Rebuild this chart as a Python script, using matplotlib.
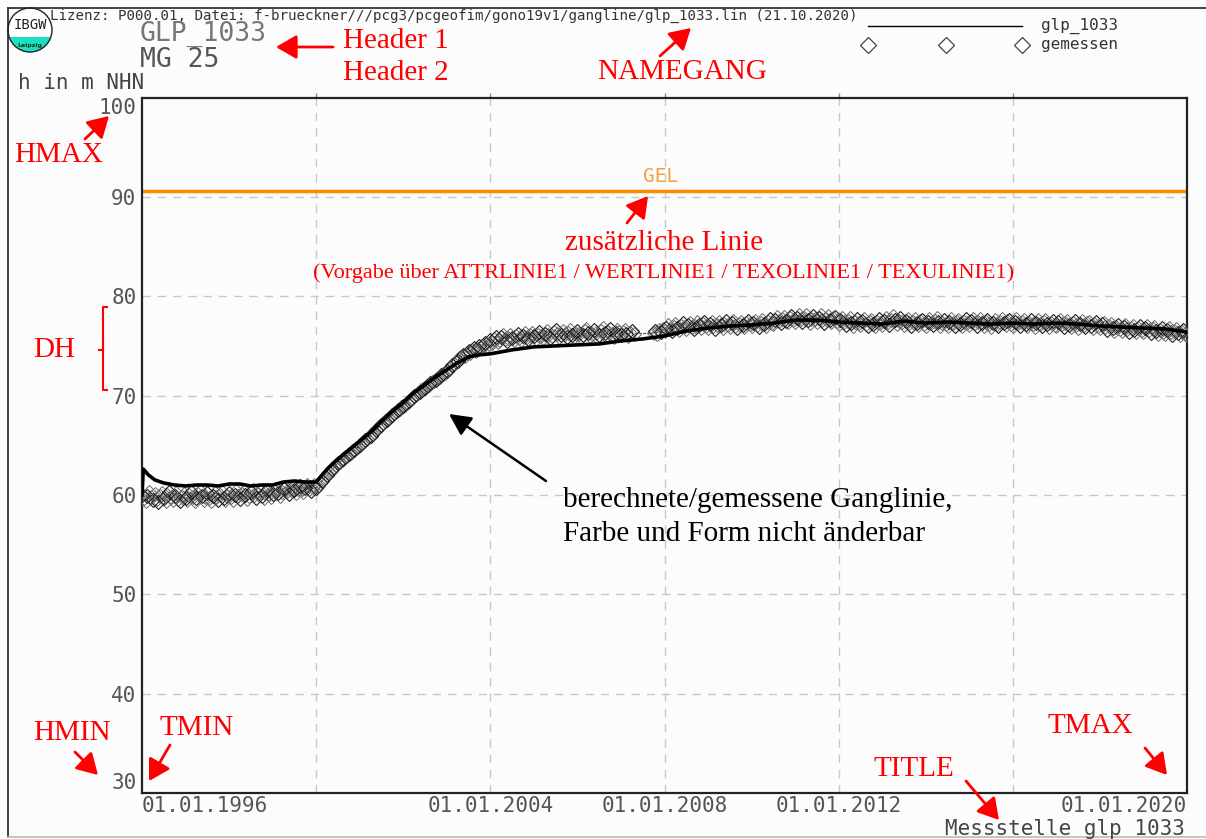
import matplotlib.pyplot as plt
import numpy as np
from matplotlib.patches import Circle, Rectangle

# measured groundwater heads (m NHN), two readings per month, Jan..Dec
meas_years = list(range(1996, 2020))
meas_h = [
    [60.0, 59.7, 59.4, 59.9, 60.3, 59.8, 59.5, 60.1, 59.6, 59.3, 59.9, 60.2,
     59.7, 59.4, 60.0, 60.3, 59.8, 59.5, 59.9, 60.2, 59.6, 59.4, 59.8, 60.1],  # 1996
    [59.7, 59.5, 60.0, 60.3, 59.8, 59.4, 59.7, 60.1, 60.4, 59.9, 59.5, 59.8,
     60.2, 59.7, 59.4, 59.9, 60.2, 59.8, 59.5, 60.0, 60.3, 59.7, 59.5, 59.9],  # 1997
    [60.2, 59.8, 59.5, 60.0, 60.4, 59.9, 59.6, 60.1, 60.4, 60.0, 59.6, 59.9,
     60.3, 60.5, 60.0, 59.7, 60.1, 60.4, 59.9, 59.7, 60.2, 60.5, 60.1, 59.8],  # 1998
    [60.1, 60.4, 60.6, 60.2, 59.9, 60.3, 60.6, 60.8, 60.4, 60.1, 60.5, 60.8,
     60.5, 60.2, 60.6, 60.9, 60.6, 60.3, 60.7, 61.0, 60.6, 60.4, 60.8, 61.0],  # 1999
    [60.7, 60.9, 61.2, 61.4, 61.6, 61.8, 62.0, 62.2, 62.4, 62.6, 62.8, 63.0,
     63.2, 63.3, 63.5, 63.6, 63.8, 63.9, 64.1, 64.2, 64.4, 64.5, 64.7, 64.8],  # 2000
    [65.0, 65.2, 65.3, 65.5, 65.6, 65.8, 65.9, 66.1, 66.3, 66.5, 66.7, 66.9,
     67.0, 67.2, 67.4, 67.5, 67.7, 67.9, 68.0, 68.2, 68.3, 68.5, 68.6, 68.8],  # 2001
    [69.0, 69.1, 69.3, 69.5, 69.7, 69.8, 70.0, 70.1, 70.3, 70.4, 70.6, 70.7,
     70.8, 71.0, 71.1, 71.3, 71.4, 71.5, 71.6, 71.8, 71.9, 72.1, 72.2, 72.3],  # 2002
    [72.5, 72.7, 72.8, 73.1, 73.2, 73.4, 73.5, 73.8, 73.9, 74.1, 74.0, 74.3,
     74.5, 74.3, 74.6, 74.8, 74.5, 74.7, 75.0, 74.8, 75.1, 75.3, 75.0, 75.2],  # 2003
    [75.6, 75.3, 75.7, 75.9, 75.4, 75.6, 75.9, 76.1, 75.7, 75.5, 75.8, 76.1,
     75.8, 75.6, 76.0, 76.2, 75.8, 75.6, 76.0, 76.3, 75.9, 75.7, 76.1, 76.3],  # 2004
    [76.0, 75.7, 76.1, 76.4, 76.0, 75.8, 76.2, 76.5, 76.1, 75.8, 76.0, 76.4,
     76.6, 76.2, 75.9, 76.1, 76.5, 76.2, 75.9, 76.3, 76.6, 76.1, 75.9, 76.2],  # 2005
    [76.5, 76.2, 75.9, 76.1, 76.5, 76.7, 76.3, 76.0, 76.2, 76.6, 76.3, 75.9,
     76.1, 76.5, 76.8, 76.3, 76.0, 76.4, 76.7, 76.2, 75.9, 76.3, 76.6, 76.4],  # 2006
    [76.1, 76.4, 76.6, 76.2, 76.0, 76.3, 76.5, 76.2, None, None, None, None,
     None, None, None, None, None, None, 76.3, 76.5, 76.2, 76.6, 76.4, 76.7],  # 2007
    [76.5, 76.8, 77.1, 76.7, 76.5, 76.9, 77.2, 76.8, 76.6, 77.0, 77.3, 76.9,
     76.7, 77.1, 77.3, 76.9, 76.7, 77.0, 77.4, 77.1, 76.8, 77.2, 77.4, 77.0],  # 2008
    [76.8, 77.2, 77.4, 77.0, 76.7, 77.1, 77.4, 77.1, 76.8, 77.2, 77.5, 77.1,
     76.9, 77.3, 77.5, 77.0, 76.8, 77.2, 77.4, 77.1, 76.9, 77.3, 77.5, 77.2],  # 2009
    [77.0, 77.3, 77.5, 77.1, 76.9, 77.3, 77.6, 77.2, 77.0, 77.4, 77.7, 77.3,
     77.2, 77.6, 77.9, 77.5, 77.3, 77.7, 77.9, 77.5, 77.4, 77.8, 78.0, 77.6],  # 2010
    [77.4, 77.8, 78.1, 77.7, 77.4, 77.8, 78.1, 77.6, 77.3, 77.7, 78.0, 77.7,
     77.4, 77.8, 78.1, 77.6, 77.3, 77.7, 78.0, 77.6, 77.4, 77.8, 77.9, 77.5],  # 2011
    [77.2, 77.6, 77.8, 77.4, 77.1, 77.5, 77.8, 77.3, 77.0, 77.4, 77.7, 77.3,
     77.1, 77.5, 77.7, 77.2, 77.0, 77.4, 77.6, 77.2, 77.0, 77.4, 77.7, 77.3],  # 2012
    [77.1, 77.5, 77.8, 77.4, 77.1, 77.6, 78.0, 77.6, 77.2, 77.5, 77.8, 77.4,
     77.1, 77.5, 77.7, 77.3, 77.0, 77.4, 77.7, 77.3, 77.1, 77.5, 77.6, 77.2],  # 2013
    [77.0, 77.4, 77.7, 77.3, 77.1, 77.5, 77.8, 77.4, 77.0, 77.3, 77.6, 77.2,
     77.0, 77.4, 77.7, 77.3, 77.0, 77.4, 77.6, 77.2, 77.0, 77.4, 77.7, 77.3],  # 2014
    [77.1, 77.5, 77.7, 77.3, 77.0, 77.4, 77.7, 77.3, 77.0, 77.4, 77.6, 77.2,
     76.9, 77.3, 77.6, 77.2, 77.0, 77.4, 77.7, 77.3, 77.1, 77.5, 77.6, 77.2],  # 2015
    [77.0, 77.4, 77.7, 77.3, 77.0, 77.4, 77.6, 77.2, 77.0, 77.3, 77.6, 77.2,
     76.9, 77.3, 77.6, 77.2, 77.0, 77.4, 77.6, 77.2, 76.9, 77.3, 77.5, 77.1],  # 2016
    [77.0, 77.4, 77.6, 77.2, 76.9, 77.3, 77.5, 77.1, 76.9, 77.3, 77.5, 77.1,
     76.8, 77.2, 77.5, 77.1, 76.9, 77.3, 77.4, 77.0, 76.8, 77.2, 77.4, 77.0],  # 2017
    [76.8, 77.2, 77.3, 76.9, 76.6, 77.0, 77.2, 76.8, 76.5, 76.9, 77.1, 76.7,
     76.5, 76.9, 77.1, 76.7, 76.4, 76.8, 77.0, 76.6, 76.4, 76.8, 77.0, 76.6],  # 2018
    [76.4, 76.8, 77.0, 76.6, 76.3, 76.7, 76.9, 76.5, 76.2, 76.6, 76.8, 76.4,
     76.2, 76.6, 76.8, 76.4, 76.1, 76.5, 76.7, 76.3, 76.1, 76.4, 76.6, 76.2],  # 2019
]
meas_last = (2020.0, 76.1)

# computed hydrograph (decimal year, m NHN)
calc_t = [1996.0, 1996.03, 1996.15, 1996.3, 1996.5, 1996.75,
          1997.0, 1997.25, 1997.5, 1997.75, 1998.0, 1998.25, 1998.5, 1998.75,
          1999.0, 1999.25, 1999.5, 1999.75, 2000.0, 2000.25, 2000.5, 2000.75,
          2001.0, 2001.25, 2001.5, 2001.75, 2002.0, 2002.25, 2002.5, 2002.75,
          2003.0, 2003.25, 2003.5, 2003.75, 2004.0, 2004.5, 2005.0, 2005.5,
          2006.0, 2006.5, 2007.0, 2007.5, 2008.0, 2008.5, 2009.0, 2009.5,
          2010.0, 2010.5, 2011.0, 2011.5, 2012.0, 2012.5, 2013.0, 2013.5,
          2014.0, 2014.5, 2015.0, 2015.5, 2016.0, 2016.5, 2017.0, 2017.5,
          2018.0, 2018.5, 2019.0, 2019.5, 2020.0]
calc_h = [60.0, 62.6, 62.0, 61.5, 61.2, 61.0,
          60.9, 61.0, 61.0, 60.9, 61.1, 61.1, 60.9, 61.0,
          61.0, 61.3, 61.4, 61.3, 61.3, 62.6, 63.6, 64.5,
          65.4, 66.3, 67.4, 68.4, 69.3, 70.3, 71.1, 71.9,
          72.6, 73.3, 73.9, 74.1, 74.2, 74.6, 74.9, 75.0,
          75.1, 75.2, 75.5, 75.7, 76.0, 76.5, 76.8, 77.0,
          77.1, 77.3, 77.6, 77.6, 77.4, 77.3, 77.2, 77.5,
          77.3, 77.4, 77.3, 77.2, 77.3, 77.2, 77.3, 77.2,
          77.0, 76.9, 76.8, 76.7, 76.4]

gel_level = 90.6
hmin, hmax = 30, 100
tmin, tmax = 1996, 2020
grid_years = [2000, 2004, 2008, 2012, 2016]
grid_heights = [40, 50, 60, 70, 80, 90]
label_years = [1996, 2004, 2008, 2012, 2020]

W, H = 1206, 839
PLOT_FONT = 'DejaVu Sans Mono'
NOTE_FONT = 'Liberation Serif'
RED = '#ff0000'


def main():
    fig = plt.figure(figsize=(W / 100, H / 100), dpi=100, facecolor='#fcfcfc')

    ax = fig.add_axes([142 / W, 1 - 793 / H, (1187 - 142) / W, (793 - 97.5) / H])
    ax.set_facecolor('#fcfcfc')

    # measured values, two per month
    mt, mh = [], []
    for year, row in zip(meas_years, meas_h):
        for i, h in enumerate(row):
            if h is not None:
                mt.append(year + i / 24)
                mh.append(h)
    mt.append(meas_last[0])
    mh.append(meas_last[1])

    for y in grid_years:
        ax.axvline(y, color='#c8c8c8', ls=(0, (6, 5)), lw=1, zorder=1)
    for h in grid_heights:
        ax.axhline(h, color='#c8c8c8', ls=(0, (6, 5)), lw=1, zorder=1)

    ax.axhline(gel_level, color='#ff8c00', lw=2.5, zorder=2)
    ax.text(2007.9, gel_level + 0.45, 'GEL', color='#f5a040', family=PLOT_FONT,
            fontsize=14, ha='center', va='bottom')

    ax.plot(mt, mh, ls='--', lw=0.6, color='#222222', zorder=3)
    ax.plot(mt, mh, ls='none', marker='D', ms=7.5, mfc='none', mec='#6a6a6a',
            mew=0.7, zorder=3)
    ax.plot(mt[::3], mh[::3], ls='none', marker='D', ms=7.5, mfc='none',
            mec='#1a1a1a', mew=0.6, zorder=3)
    ax.plot(calc_t, calc_h, color='black', lw=2.6, zorder=4)

    ax.set_xlim(tmin, tmax)
    ax.set_ylim(hmin, hmax)
    ax.set_yticks(range(30, 101, 10))
    ax.set_xticks(label_years)
    ax.set_xticklabels(['01.01.%d' % y for y in label_years])
    ax.tick_params(length=0, labelsize=15, labelcolor='#555555')
    ax.tick_params(axis='x', pad=2)
    ax.tick_params(axis='y', pad=4)
    for lab in ax.get_xticklabels() + ax.get_yticklabels():
        lab.set_family(PLOT_FONT)
    xl = ax.get_xticklabels()
    xl[0].set_ha('left')
    xl[-1].set_ha('right')
    yl = ax.get_yticklabels()
    yl[0].set_va('bottom')
    yl[-1].set_va('top')
    for s in ax.spines.values():
        s.set_linewidth(1.6)
        s.set_color('#222222')

    # short ticks on the top border at the grid lines
    top = ax.secondary_xaxis('top')
    top.set_xticks(grid_years)
    top.tick_params(length=3, width=1, color='#888888', labeltop=False)
    top.spines['top'].set_visible(False)

    # page overlay in pixel coordinates
    ov = fig.add_axes([0, 0, 1, 1], facecolor='none', zorder=10)
    ov.set_xlim(0, W)
    ov.set_ylim(H, 0)
    ov.axis('off')

    ov.plot([8, W], [8, 8], color='#222222', lw=1.2)
    ov.plot([8, 8], [8, 837], color='#222222', lw=1.2)
    ov.plot([8, W], [837, 837], color='#bbbbbb', lw=1.2)

    # IBGW logo
    ov.add_patch(Circle((30, 30), 22, facecolor='white', edgecolor='none', zorder=1))
    teal = Circle((30, 30), 22, facecolor='#1de0c0', edgecolor='none', zorder=2)
    ov.add_patch(teal)
    teal.set_clip_path(Rectangle((0, 37), 60, 20, transform=ov.transData))
    ov.add_patch(Circle((30, 30), 22, facecolor='none', edgecolor='#222222', lw=1, zorder=3))
    ov.text(30, 25, 'IBGW', family=PLOT_FONT, fontsize=10, ha='center', va='center',
            color='#222222', zorder=4)
    ov.text(30, 45, 'Leipzig', family='DejaVu Sans', fontsize=4.5, ha='center',
            va='center', color='#0a3a20', weight='bold', zorder=4)

    ov.text(50, 16, 'Lizenz: P000.01, Datei: f-brueckner///pcg3/pcgeofim/gono19v1/'
            'gangline/glp_1033.lin (21.10.2020)', family=PLOT_FONT, fontsize=10.2,
            color='#333333', va='center')
    ov.text(140, 34, 'GLP_1033', family=PLOT_FONT, fontsize=19, color='#777777', va='center')
    ov.text(140, 60, 'MG 25', family=PLOT_FONT, fontsize=19, color='#555555', va='center')
    ov.text(18, 83, 'h in m NHN', family=PLOT_FONT, fontsize=15, color='#444444', va='center')
    ov.text(1185, 829, 'Messstelle glp_1033', family=PLOT_FONT, fontsize=15,
            color='#444444', va='center', ha='right')

    # legend
    ov.plot([868, 1022], [26, 26], color='black', lw=1)
    ov.plot([868, 946, 1022], [45, 45, 45], ls='none', marker='D', ms=8,
            mfc='white', mec='#444444', mew=0.9)
    ov.text(1041, 26, 'glp_1033', family=PLOT_FONT, fontsize=11.5, color='#333333', va='center')
    ov.text(1041, 45, 'gemessen', family=PLOT_FONT, fontsize=11.5, color='#333333', va='center')

    # red explanatory notes
    red = dict(family=NOTE_FONT, fontsize=21, color=RED, va='center')
    ov.text(343, 41, 'Header 1', **red)
    ov.text(343, 73, 'Header 2', **red)
    ov.text(682, 72, 'NAMEGANG', ha='center', **red)
    ov.text(664, 243, 'zusätzliche Linie', ha='center', **red)
    ov.text(664, 273, '(Vorgabe über ATTRLINIE1 / WERTLINIE1 / TEXOLINIE1 / TEXULINIE1)',
            ha='center', family=NOTE_FONT, fontsize=16, color=RED, va='center')
    ov.text(14, 155, 'HMAX', **red)
    ov.text(54, 350, 'DH', ha='center', **red)
    ov.text(33, 733, 'HMIN', **red)
    ov.text(160, 728, 'TMIN', **red)
    ov.text(1047, 726, 'TMAX', **red)
    ov.text(873, 769, 'TITLE', **red)

    red_arrows = [((333, 47), (276, 47)), ((660, 56), (691, 28)), ((627, 223), (648, 196)),
                  ((85, 139), (109, 116)), ((75, 752), (98, 775)), ((170, 745), (149, 781)),
                  ((1145, 748), (1167, 775)), ((966, 781), (999, 820))]
    for tail, head in red_arrows:
        ov.annotate('', xy=head, xytext=tail,
                    arrowprops=dict(arrowstyle='-|>,head_length=0.6,head_width=0.35',
                                    color=RED, lw=2, mutation_scale=21,
                                    shrinkA=0, shrinkB=0))

    ov.plot([107, 103, 103, 107], [307, 307, 390, 390], color=RED, lw=1.5)
    ov.plot([99, 103], [350, 350], color=RED, lw=1.5)

    black = dict(family=NOTE_FONT, fontsize=21, color='black', va='center')
    ov.text(563, 500, 'berechnete/gemessene Ganglinie,', **black)
    ov.text(563, 534, 'Farbe und Form nicht änderbar', **black)
    ov.annotate('', xy=(449, 414), xytext=(546, 481),
                arrowprops=dict(arrowstyle='-|>,head_length=0.6,head_width=0.3',
                                color='black', lw=1.8, mutation_scale=22,
                                shrinkA=0, shrinkB=0))

    fig.savefig('out.png', dpi=100, facecolor=fig.get_facecolor())


if __name__ == '__main__':
    main()
